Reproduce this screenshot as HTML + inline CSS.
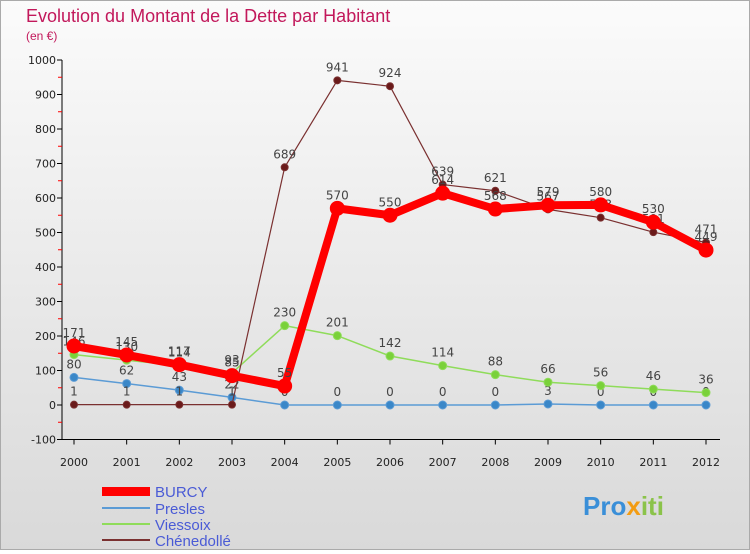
<!DOCTYPE html>
<html><head><meta charset="utf-8"><style>
body{margin:0;width:750px;height:550px;overflow:hidden;font-family:"DejaVu Sans","Liberation Sans",sans-serif}
</style></head><body>
<svg id="c" width="750" height="550" xmlns="http://www.w3.org/2000/svg">
<defs><linearGradient id="bg" x1="0" y1="0" x2="0" y2="1"><stop offset="0" stop-color="#fbfbfb"/><stop offset="1" stop-color="#d9d9d9"/></linearGradient></defs>
<rect x="0.5" y="0.5" width="749" height="549" fill="url(#bg)" stroke="#aaa"/>
<text x="26" y="22" font-size="18" font-family="Liberation Sans,sans-serif" fill="#c2185b">Evolution du Montant de la Dette par Habitant</text>
<text x="26" y="40" font-size="12" font-family="Liberation Sans,sans-serif" fill="#c2185b">(en €)</text>
<g id="axes"></g><g id="series"></g>
<g font-family="Liberation Sans,sans-serif">
<rect x="102" y="487" width="48" height="9" fill="#f00"/>
<text x="155" y="497" font-size="15" fill="#4a5bd6">BURCY</text>
<line x1="102" y1="508" x2="150" y2="508" stroke="#5b9bd5" stroke-width="2"/>
<text x="155" y="514" font-size="15" fill="#4a5bd6">Presles</text>
<line x1="102" y1="524" x2="150" y2="524" stroke="#8fdc5a" stroke-width="2"/>
<text x="155" y="530" font-size="15" fill="#4a5bd6">Viessoix</text>
<line x1="102" y1="540" x2="150" y2="540" stroke="#7a3030" stroke-width="2"/>
<text x="155" y="546" font-size="15" fill="#4a5bd6">Chénedollé</text>
</g>
<text x="583" y="515" font-size="26" font-weight="bold" font-family="Liberation Sans,sans-serif" fill="#3a8fd8">Pro<tspan fill="#f39c12">x</tspan><tspan fill="#8bc34a">iti</tspan></text>
</svg>
<script>
const years=[2000,2001,2002,2003,2004,2005,2006,2007,2008,2009,2010,2011,2012];
const burcy=[171,145,117,85,55,570,550,614,568,579,580,530,449];
const presles=[80,62,43,22,0,0,0,0,0,3,0,0,0];
const viessoix=[146,130,114,93,230,201,142,114,88,66,56,46,36];
const chenedolle=[1,1,1,1,689,941,924,639,621,567,543,501,471];
const yTicks=[-100,0,100,200,300,400,500,600,700,800,900,1000];
const NS="http://www.w3.org/2000/svg";
const X=i=>74+i*(706-74)/(years.length-1);
const Y=v=>405-v*0.345;
function mk(p,t,a){const e=document.createElementNS(NS,t);for(const k in a)e.setAttribute(k,a[k]);p.appendChild(e);return e;}
const ax=document.getElementById('axes'),sr=document.getElementById('series');
const yl=mk(ax,'line',{x1:62,y1:Y(-100),x2:62,y2:Y(1000),stroke:'#000'});

const xl=mk(ax,'line',{x1:62,y1:Y(-100),x2:720,y2:Y(-100),stroke:'#000'});

yTicks.forEach(v=>{
 mk(ax,'line',{x1:57,y1:Y(v),x2:62,y2:Y(v),stroke:'#000'});
 if(v<1000) mk(ax,'line',{x1:58,y1:Y(v+50),x2:62,y2:Y(v+50),stroke:'#f00'});
 const t=mk(ax,'text',{x:56,y:Y(v)+4,'font-size':11,'text-anchor':'end',fill:'#222'});t.textContent=v;
 
});
years.forEach((y,i)=>{
 mk(ax,'line',{x1:X(i),y1:Y(-100),x2:X(i),y2:Y(-100)+5,stroke:'#000'});
 const t=mk(ax,'text',{x:X(i),y:466,'font-size':11,'text-anchor':'middle',fill:'#222'});t.textContent=y;
 
});
function series(d,name,col,w,r,dot){
 const g=mk(sr,'g',{});
 const pl=mk(g,'polyline',{points:d.map((v,i)=>X(i)+','+Y(v)).join(' '),fill:'none',stroke:col,'stroke-width':w,'stroke-linejoin':'round'});
 
 d.forEach((v,i)=>{
  const c=mk(g,'circle',{cx:X(i),cy:Y(v),r:r,fill:dot,stroke:col,'stroke-width':1});
  
  const t=mk(g,'text',{x:X(i),y:Y(v)-9,'font-size':12,'text-anchor':'middle',fill:'#444'});t.textContent=v;
  
 });
}
series(presles,'presles','#5b9bd5',1.5,4,'#3a87c8');
series(viessoix,'viessoix','#8fdc5a',1.5,4,'#7ad13a');
series(chenedolle,'chenedolle','#7a3030',1.2,3.5,'#6a1a1a');
series(burcy,'burcy','#f00',8,7,'#f00');
</script>
</body></html>
